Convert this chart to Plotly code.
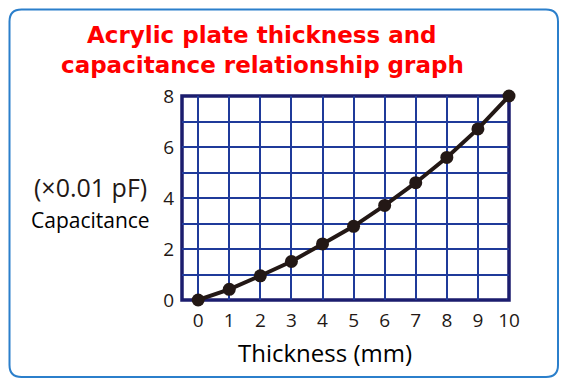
import plotly.graph_objects as go

thickness = [0, 1, 2, 3, 4, 5, 6, 7, 8, 9, 10]
capacitance = [0.0, 0.42, 0.95, 1.51, 2.2, 2.89, 3.71, 4.6, 5.59, 6.71, 8.0]
x_ticks = [0, 1, 2, 3, 4, 5, 6, 7, 8, 9, 10]
y_ticks = [0, 2, 4, 6, 8]

W, H = 568, 388
L, R, T, B = 182, 59, 96, 88
PW, PH = W - L - R, H - T - B

def px(x):
    return (x - L) / PW

def py(y):
    return (H - B - y) / PH

GRID = "#1f3a9a"
FRAME = "#1b1d6e"
INK = "#231815"
FONT = "Open Sans"

fig = go.Figure()
fig.add_trace(go.Scatter(
    x=thickness, y=capacitance, mode="lines+markers",
    line=dict(color=INK, width=4),
    marker=dict(color=INK, size=13),
    cliponaxis=False, hoverinfo="skip", showlegend=False,
))

# rounded outer box
x0, x1, y0, y1, r = 9.5, 558, 9.5, 377, 12
path = (f"M {px(x0+r)},{py(y0)} L {px(x1-r)},{py(y0)} Q {px(x1)},{py(y0)} {px(x1)},{py(y0+r)} "
        f"L {px(x1)},{py(y1-r)} Q {px(x1)},{py(y1)} {px(x1-r)},{py(y1)} "
        f"L {px(x0+r)},{py(y1)} Q {px(x0)},{py(y1)} {px(x0)},{py(y1-r)} "
        f"L {px(x0)},{py(y0+r)} Q {px(x0)},{py(y0)} {px(x0+r)},{py(y0)} Z")
fig.add_shape(type="path", path=path, xref="paper", yref="paper",
              line=dict(color="#2b7fcb", width=2), layer="below")

# plot frame
fig.add_shape(type="rect", xref="x domain", yref="y domain", x0=0, x1=1, y0=0, y1=1,
              line=dict(color=FRAME, width=3.5), layer="below")

def label(xp, yp, text, size, color, family=FONT):
    fig.add_annotation(x=px(xp), y=py(yp), xref="paper", yref="paper", showarrow=False,
                       xanchor="center", yanchor="middle", text=text,
                       font=dict(family=family, size=size, color=color))

label(262, 35, "<b>Acrylic plate thickness and</b>", 23, "#ff0000", "DejaVu Sans")
label(262, 65, "<b>capacitance relationship graph</b>", 23, "#ff0000", "DejaVu Sans")
label(90, 187, "(×0.01 pF)", 25, INK)
label(90, 220, "Capacitance", 21, "#000000")
label(325, 352, "Thickness (mm)", 24, "#000000")

fig.update_xaxes(range=[-0.52, 10], tickvals=x_ticks, showgrid=True, gridcolor=GRID, gridwidth=2,
                 zeroline=False, showline=False, ticks="outside", ticklen=3,
                 tickcolor="rgba(0,0,0,0)",
                 tickfont=dict(family=FONT, size=19, color=INK))
fig.update_yaxes(range=[0, 8], tickvals=y_ticks, showgrid=True, gridcolor=GRID, gridwidth=2,
                 minor=dict(dtick=1, tick0=0, showgrid=True, gridcolor=GRID, gridwidth=2),
                 zeroline=False, showline=False, ticks="outside", ticklen=3,
                 tickcolor="rgba(0,0,0,0)",
                 tickfont=dict(family=FONT, size=19, color=INK))

fig.update_layout(width=W, height=H, margin=dict(l=L, r=R, t=T, b=B),
                  paper_bgcolor="white", plot_bgcolor="white", showlegend=False)

fig.write_html("out.html")
